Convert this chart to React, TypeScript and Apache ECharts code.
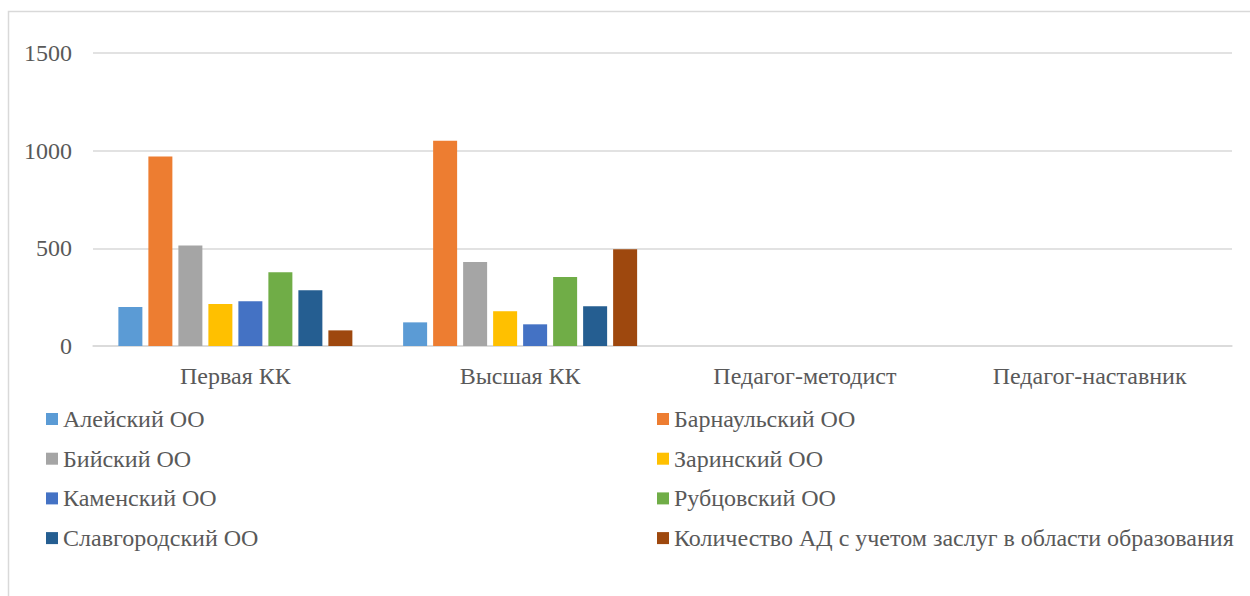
import React, { useEffect, useRef } from "react";
import * as echarts from "echarts";

const categories = ["Первая КК", "Высшая КК", "Педагог-методист", "Педагог-наставник"];
const seriesNames = [
  "Алейский ОО",
  "Барнаульский ОО",
  "Бийский ОО",
  "Заринский ОО",
  "Каменский ОО",
  "Рубцовский ОО",
  "Славгородский ОО",
  "Количество АД с учетом заслуг в области образования",
];
const colors = ["#5B9BD5", "#ED7D31", "#A5A5A5", "#FFC000", "#4472C4", "#70AD47", "#255E91", "#9E480E"];
const aleysky = [200, 121, 0, 0];
const barnaul = [970, 1051, 0, 0];
const biysk = [515, 430, 0, 0];
const zarinsk = [215, 178, 0, 0];
const kamensk = [229, 111, 0, 0];
const rubtsovsk = [377, 353, 0, 0];
const slavgorod = [285, 203, 0, 0];
const kolichestvo = [80, 495, 0, 0];
const seriesValues = [aleysky, barnaul, biysk, zarinsk, kamensk, rubtsovsk, slavgorod, kolichestvo];
const yTicks = [0, 500, 1000, 1500];

const FONT = "Liberation Serif";
const FS = 24;

export default function App() {
  const ref = useRef<HTMLDivElement>(null);
  useEffect(() => {
    if (!ref.current) return;
    const chart = echarts.init(ref.current, null, { renderer: "svg" });
    const legendText = { fontFamily: FONT, fontSize: FS, color: "#595959", lineHeight: 22 };
    chart.setOption({
      animation: false,
      backgroundColor: "#ffffff",
      textStyle: { fontFamily: FONT },
      graphic: [
        {
          type: "rect",
          shape: { x: 8.5, y: 11.5, width: 1250, height: 620 },
          style: { fill: "none", stroke: "#d9d9d9", lineWidth: 1.5 },
          silent: true,
        },
      ],
      grid: { left: 93, right: 18, top: 53, bottom: 250, containLabel: false },
      legend: [
        {
          orient: "vertical",
          left: 41,
          top: 402,
          itemWidth: 12,
          itemHeight: 12,
          itemGap: 15.7,
          icon: "rect",
          textStyle: legendText,
          data: [seriesNames[0], seriesNames[2], seriesNames[4], seriesNames[6]],
        },
        {
          orient: "vertical",
          left: 652,
          top: 402,
          itemWidth: 12,
          itemHeight: 12,
          itemGap: 15.7,
          icon: "rect",
          textStyle: legendText,
          data: [seriesNames[1], seriesNames[3], seriesNames[5], seriesNames[7]],
        },
      ],
      xAxis: {
        type: "category",
        data: categories,
        axisLine: { lineStyle: { color: "#d9d9d9", width: 1.5 } },
        axisTick: { show: false },
        axisLabel: { fontFamily: FONT, fontSize: FS, color: "#595959", margin: 18 },
      },
      yAxis: {
        type: "value",
        min: yTicks[0],
        max: yTicks[yTicks.length - 1],
        interval: 500,
        axisLine: { show: false },
        axisTick: { show: false },
        splitLine: { lineStyle: { color: "#d9d9d9", width: 1.5 } },
        axisLabel: {
          fontFamily: FONT,
          fontSize: FS,
          color: "#595959",
          margin: 21,
          formatter: (v: number) => String(v),
        },
      },
      series: seriesNames.map((name, i) => ({
        name,
        type: "bar",
        data: seriesValues[i],
        barWidth: 24,
        barGap: "25%",
        itemStyle: { color: colors[i] },
      })),
    });
    return () => chart.dispose();
  }, []);
  return (
    <div
      ref={ref}
      style={{ position: "absolute", left: 0, top: 0, width: 1250, height: 596 }}
    />
  );
}
